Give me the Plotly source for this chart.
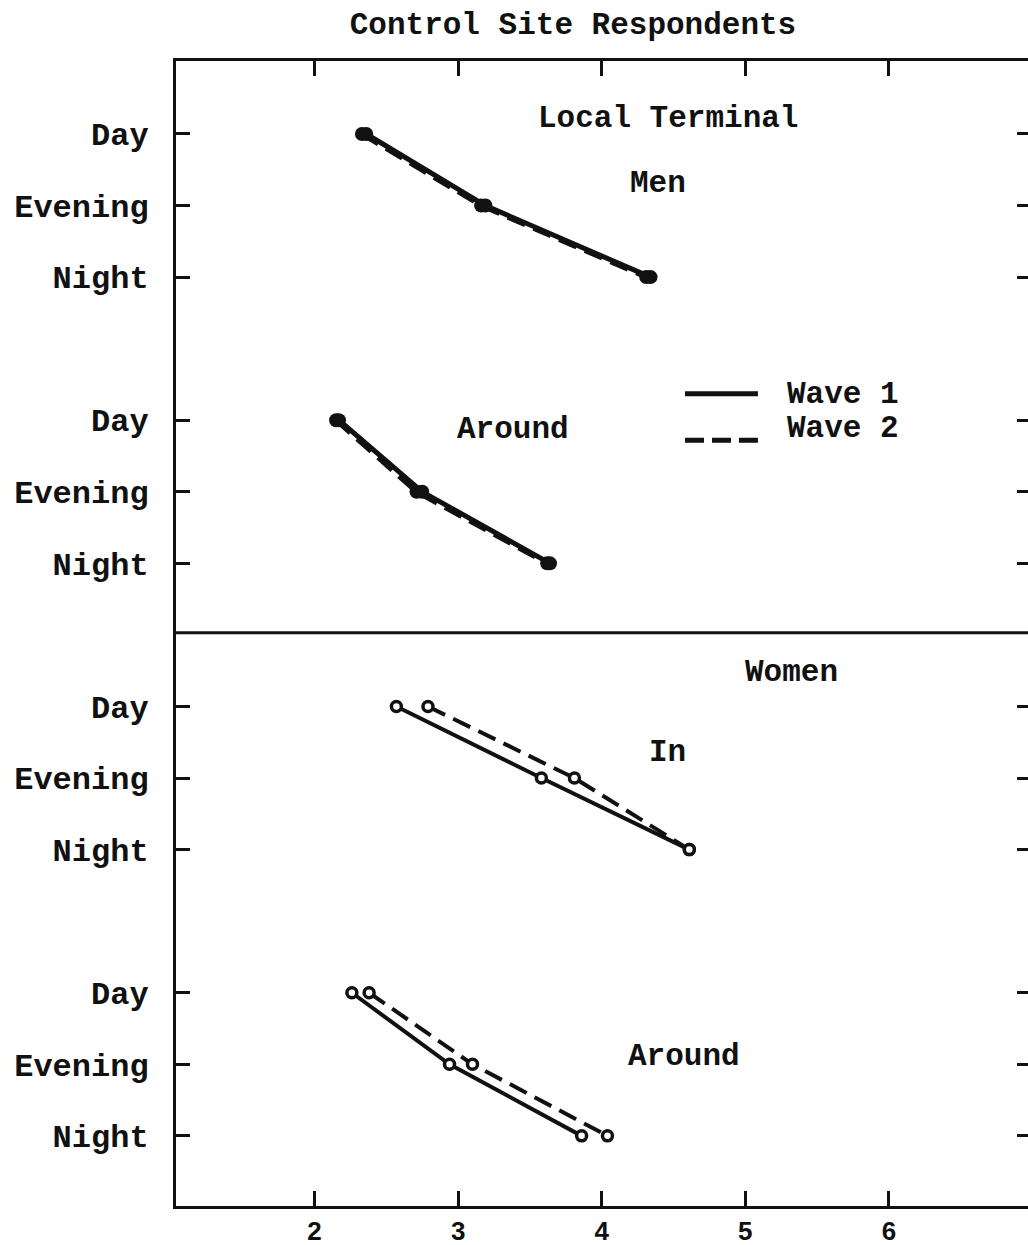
import plotly.graph_objects as go

# ---- data ----
times = ["Day", "Evening", "Night"]
panels = ["Local Terminal Men", "Around Men", "In Women", "Around Women"]
men_lt_w1 = [2.36, 3.19, 4.34]
men_lt_w2 = [2.33, 3.16, 4.31]
men_around_w1 = [2.17, 2.75, 3.64]
men_around_w2 = [2.15, 2.71, 3.62]
women_in_w1 = [2.57, 3.58, 4.61]
women_in_w2 = [2.79, 3.81, 4.61]
women_around_w1 = [2.26, 2.94, 3.86]
women_around_w2 = [2.38, 3.10, 4.04]
x_ticks = [2, 3, 4, 5, 6]
x_ticklabels = ["2", "3", "4", "5", "6"]

groups = [
    (men_lt_w1, men_lt_w2, "men"),
    (men_around_w1, men_around_w2, "men"),
    (women_in_w1, women_in_w2, "women"),
    (women_around_w1, women_around_w2, "women"),
]

MONO = "Liberation Mono"
INK = "#111111"

fig = go.Figure()

y_tickvals, y_ticktext = [], []
for g, (w1, w2, sex) in enumerate(groups):
    ys = [4 * g + t for t in range(len(times))]
    y_tickvals += ys
    y_ticktext += times
    if sex == "men":
        mk = dict(symbol="circle", size=14, color=INK, line=dict(width=0))
        lw = 5
    else:
        mk = dict(symbol="circle", size=10, color="white", line=dict(width=3.5, color=INK))
        lw = 4
    fig.add_trace(go.Scatter(x=w2, y=ys, mode="lines+markers",
                             line=dict(color=INK, width=lw, dash="19px,9px"),
                             marker=mk, showlegend=False, hoverinfo="skip"))
    fig.add_trace(go.Scatter(x=w1, y=ys, mode="lines+markers",
                             line=dict(color=INK, width=lw),
                             marker=mk, showlegend=False, hoverinfo="skip"))

# invisible trace to carry the right-hand tick axis
fig.add_trace(go.Scatter(x=[], y=[], yaxis="y2", showlegend=False, hoverinfo="skip"))

yrange = [14.98, -1.02]

fig.update_layout(
    width=1028, height=1245,
    margin=dict(l=176, r=0, t=61, b=39, autoexpand=False),
    paper_bgcolor="white", plot_bgcolor="white",
    title=dict(text="Control Site Respondents", x=573 / 1028, xanchor="center",
               y=1 - 23 / 1245, yanchor="middle",
               font=dict(family=MONO, size=31, color=INK, weight="bold")),
    xaxis=dict(range=[1.035, 6.969], tickvals=x_ticks, ticktext=x_ticklabels,
               ticks="inside", ticklen=15, tickwidth=3, tickcolor=INK,
               showline=True, linewidth=3, linecolor=INK, mirror="ticks",
               showgrid=False, zeroline=False, automargin=False,
               ticklabelstandoff=0,
               tickfont=dict(family="Liberation Sans", size=26, color=INK, weight="bold")),
    yaxis=dict(range=yrange, tickvals=y_tickvals, ticktext=y_ticktext,
               ticks="inside", ticklen=14, tickwidth=3, tickcolor=INK,
               showline=True, linewidth=3, linecolor=INK,
               showgrid=False, zeroline=False, automargin=False,
               ticklabelstandoff=18,
               tickfont=dict(family=MONO, size=32, color=INK, weight="bold")),
    yaxis2=dict(range=yrange, tickvals=y_tickvals, overlaying="y", side="right",
                anchor="x", ticks="inside", ticklen=11, tickwidth=3, tickcolor=INK,
                showticklabels=False, showline=False, showgrid=False,
                zeroline=False, automargin=False),
)

# divider between men and women panels
fig.add_shape(type="line", xref="paper", x0=0, x1=1, yref="y", y0=6.97, y1=6.97,
              line=dict(color=INK, width=3))

# legend drawn inside the plot
fig.add_shape(type="line", x0=4.58, x1=5.088, y0=3.63, y1=3.63,
              line=dict(color=INK, width=5))
fig.add_shape(type="line", x0=4.58, x1=5.088, y0=4.28, y1=4.28,
              line=dict(color=INK, width=5, dash="19px,8px"))

def label(text, x, y, anchor="center"):
    fig.add_annotation(x=x, y=y, text=text, showarrow=False, xanchor=anchor,
                       yanchor="middle",
                       font=dict(family=MONO, size=31, color=INK, weight="bold"))

label("Wave 1", 5.276, 3.64, "left")
label("Wave 2", 5.276, 4.12, "left")
label("Local Terminal", 4.462, -0.21)
label("Men", 4.392, 0.69)
label("Around", 3.382, 4.13)
label("Women", 5.325, 7.52)
label("In", 4.455, 8.64)
label("Around", 4.573, 12.89)

fig.write_html("out.html")
